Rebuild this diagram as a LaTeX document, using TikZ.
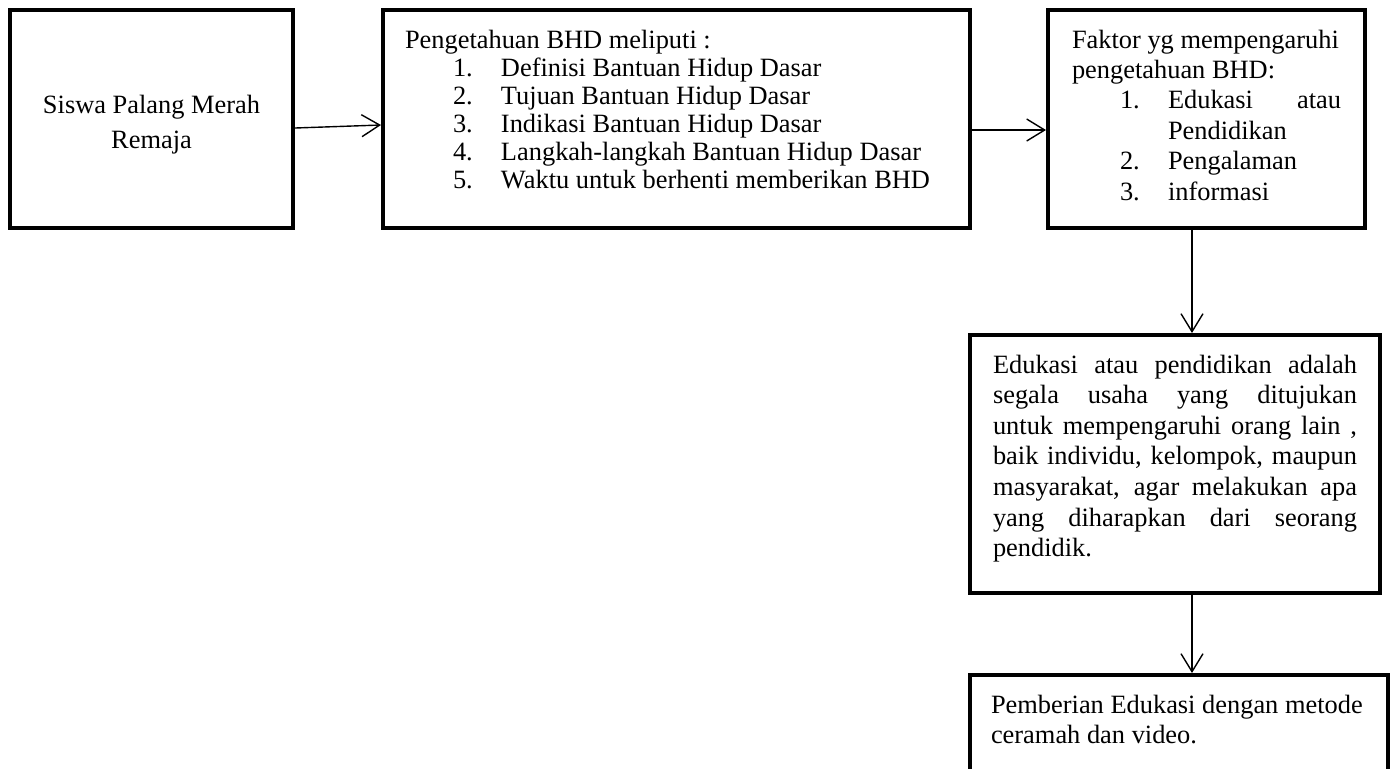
\documentclass[tikz,border=0pt]{standalone}
\usepackage{fontspec}
\setmainfont{Liberation Serif}
\usetikzlibrary{arrows.meta, positioning}
\tikzset{node distance = 3cm, on grid,
         >= {Straight Barb[length = 9pt, width = 11pt]},
         block/.style = {draw, line width = 2pt, inner ysep = 9pt},
         link/.style = {->, line width = 0.7pt}}
\newcommand{\toptext}[3]{\parbox[c][#2][t]{#1}{\rule{0pt}{10pt}#3}}
\newcommand{\bhdpoint}[2]{\par{\leftskip=48pt\noindent\llap{\makebox[24pt][l]{#1}}#2\par}}

\begin{document}
\begin{tikzpicture}
        \useasboundingbox (0,0) rectangle (696pt,-384pt);

        \node[block, inner xsep = 0pt, font = \fontsize{13.2pt}{17.5pt}\selectfont]
              (siswa) at (75.75pt,-59.5pt)
              {\parbox[c][91pt][c]{141.5pt}{\centering\vspace*{6pt}Siswa Palang Merah\\Remaja}};
        \node[block, inner xsep = 11pt, font = \fontsize{13.2pt}{14pt}\selectfont]
              (pengetahuan) [right = 262.5pt of siswa]
              {\toptext{271.5pt}{91pt}{Pengetahuan BHD meliputi :
                \bhdpoint{1.}{Definisi Bantuan Hidup Dasar}
                \bhdpoint{2.}{Tujuan Bantuan Hidup Dasar}
                \bhdpoint{3.}{Indikasi Bantuan Hidup Dasar}
                \bhdpoint{4.}{Langkah-langkah Bantuan Hidup Dasar}
                \bhdpoint{5.}{Waktu untuk berhenti memberikan BHD}}};
        \node[block, inner xsep = 12pt, font = \fontsize{13.2pt}{15.2pt}\selectfont]
              (faktor) [right = 265pt of pengetahuan]
              {\toptext{134.5pt}{91pt}{Faktor yg mempengaruhi\\ pengetahuan BHD:
                \bhdpoint{1.}{Edukasi atau\linebreak Pendidikan}
                \bhdpoint{2.}{Pengalaman}
                \bhdpoint{3.}{informasi}}};
        \node[block, inner xsep = 11.5pt, font = \fontsize{13.2pt}{15.3pt}\selectfont]
              (edukasi) [below = 172.5pt of faktor, xshift = -15.75pt]
              {\toptext{182pt}{111pt}{Edukasi atau pendidikan adalah\linebreak
                segala usaha yang ditujukan\linebreak
                untuk mempengaruhi orang lain ,\linebreak
                baik individu, kelompok, maupun\linebreak
                masyarakat, agar melakukan apa\linebreak
                yang diharapkan dari seorang\linebreak
                pendidik.}};
        \node[block, inner xsep = 10.5pt, font = \fontsize{13.2pt}{15pt}\selectfont]
              (metode) [below = 129.75pt of edukasi, xshift = 2pt]
              {\toptext{188pt}{30.5pt}{Pemberian Edukasi dengan metode\\ ceramah dan video.}};

        \draw[link] ([yshift = -4.5pt]siswa.east) -- ([yshift = -3pt]pengetahuan.west);
        \draw[link] ([yshift = -5.5pt]pengetahuan.east) -- ([yshift = -5.5pt]faktor.west);
        \draw[link] ([xshift = -7.25pt]faktor.south) -- ([xshift = 8.5pt]edukasi.north);
        \draw[link] ([xshift = 8.5pt]edukasi.south) -- ([xshift = 6.5pt]metode.north);
    \end{tikzpicture}
\end{document}
